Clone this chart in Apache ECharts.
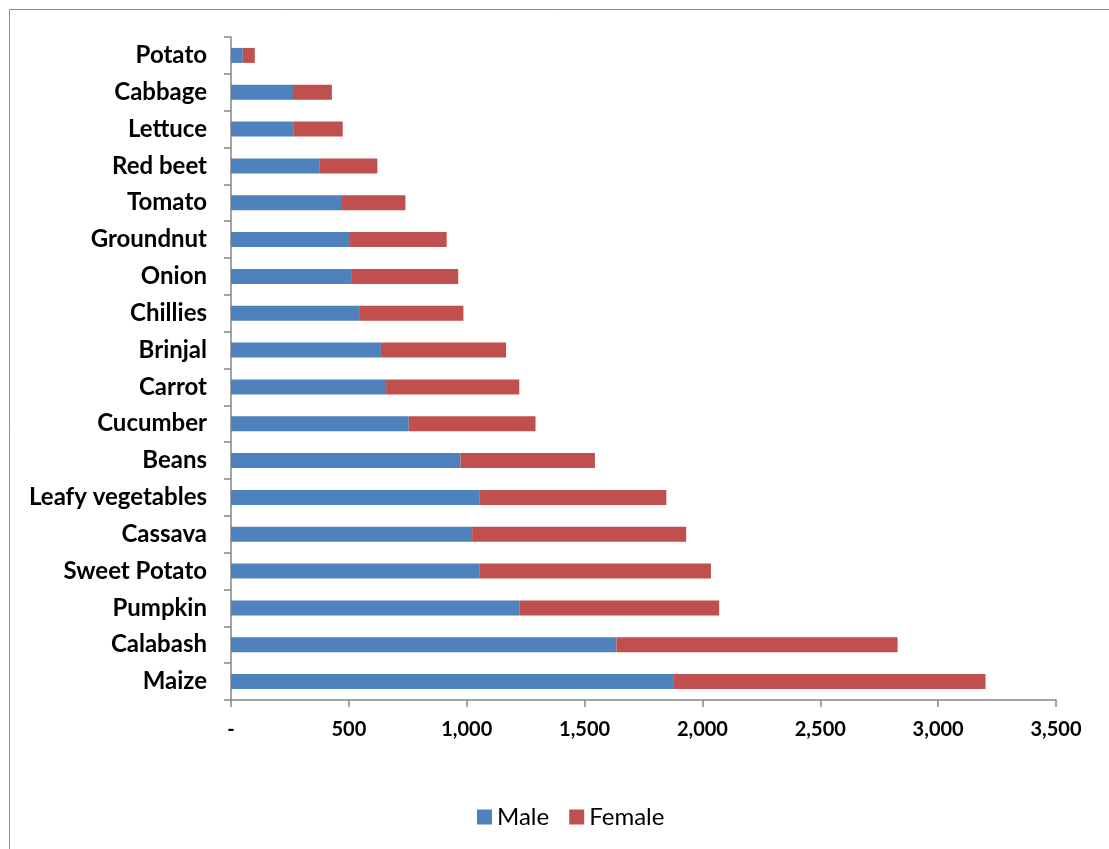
<!DOCTYPE html>
<html>
<head>
<meta charset="utf-8">
<script src="https://cdn.jsdelivr.net/npm/echarts@6/dist/echarts.min.js"></script>
<style>
html,body{margin:0;padding:0;background:#fff;}
#chart{width:1109px;height:849px;}
</style>
</head>
<body>
<div id="chart"></div>
<script>
const categories = ['Potato','Cabbage','Lettuce','Red beet','Tomato','Groundnut','Onion','Chillies','Brinjal','Carrot','Cucumber','Beans','Leafy vegetables','Cassava','Sweet Potato','Pumpkin','Calabash','Maize'];
const maleValues = [50,263,264,377,471,505,513,547,636,658,754,974,1053,1023,1053,1223,1635,1879];
const femaleValues = [51,165,210,244,269,410,451,439,531,565,538,570,794,908,983,848,1193,1322];
const xTickLabels = ['-','500','1,000','1,500','2,000','2,500','3,000','3,500'];

const chart = echarts.init(document.getElementById('chart'));
const labelFont = 'Lato, "Open Sans", sans-serif';
chart.setOption({
  animation: false,
  backgroundColor: '#fff',
  graphic: [{
    type: 'rect',
    shape: {x: 9.5, y: 9.5, width: 1300, height: 1300},
    style: {fill: 'none', stroke: '#8c8c8c', lineWidth: 1},
    silent: true
  }],
  grid: {left: 231, right: 53, top: 37, bottom: 149, containLabel: false},
  legend: {
    bottom: 15,
    left: 472,
    itemWidth: 15,
    itemHeight: 15,
    itemGap: 20,
    icon: 'rect',
    textStyle: {fontFamily: labelFont, fontSize: 24, color: '#000'},
    data: ['Male','Female']
  },
  xAxis: {
    type: 'value',
    min: 0, max: 3500, interval: 500,
    axisLine: {show: true, lineStyle: {color: '#868686', width: 1.5}},
    axisTick: {show: true, inside: false, length: 7, lineStyle: {color: '#868686', width: 1.5}},
    splitLine: {show: false},
    axisLabel: {
      margin: 20,
      fontFamily: labelFont, fontSize: 20, fontWeight: 'bold', color: '#000',
      formatter: v => xTickLabels[Math.round(v / 500)]
    }
  },
  yAxis: {
    type: 'category',
    inverse: true,
    data: categories,
    axisLine: {show: true, lineStyle: {color: '#868686', width: 1.5}},
    axisTick: {show: true, length: 7, lineStyle: {color: '#868686', width: 1.5}},
    axisLabel: {margin: 24, fontFamily: labelFont, fontSize: 24, fontWeight: 'bold', color: '#000'}
  },
  series: [
    {name: 'Male', type: 'bar', stack: 'total', data: maleValues, barWidth: 15,
     itemStyle: {color: '#4F81BD'}},
    {name: 'Female', type: 'bar', stack: 'total', data: femaleValues, barWidth: 15,
     itemStyle: {color: '#C0504D'}}
  ]
});
</script>
</body>
</html>
